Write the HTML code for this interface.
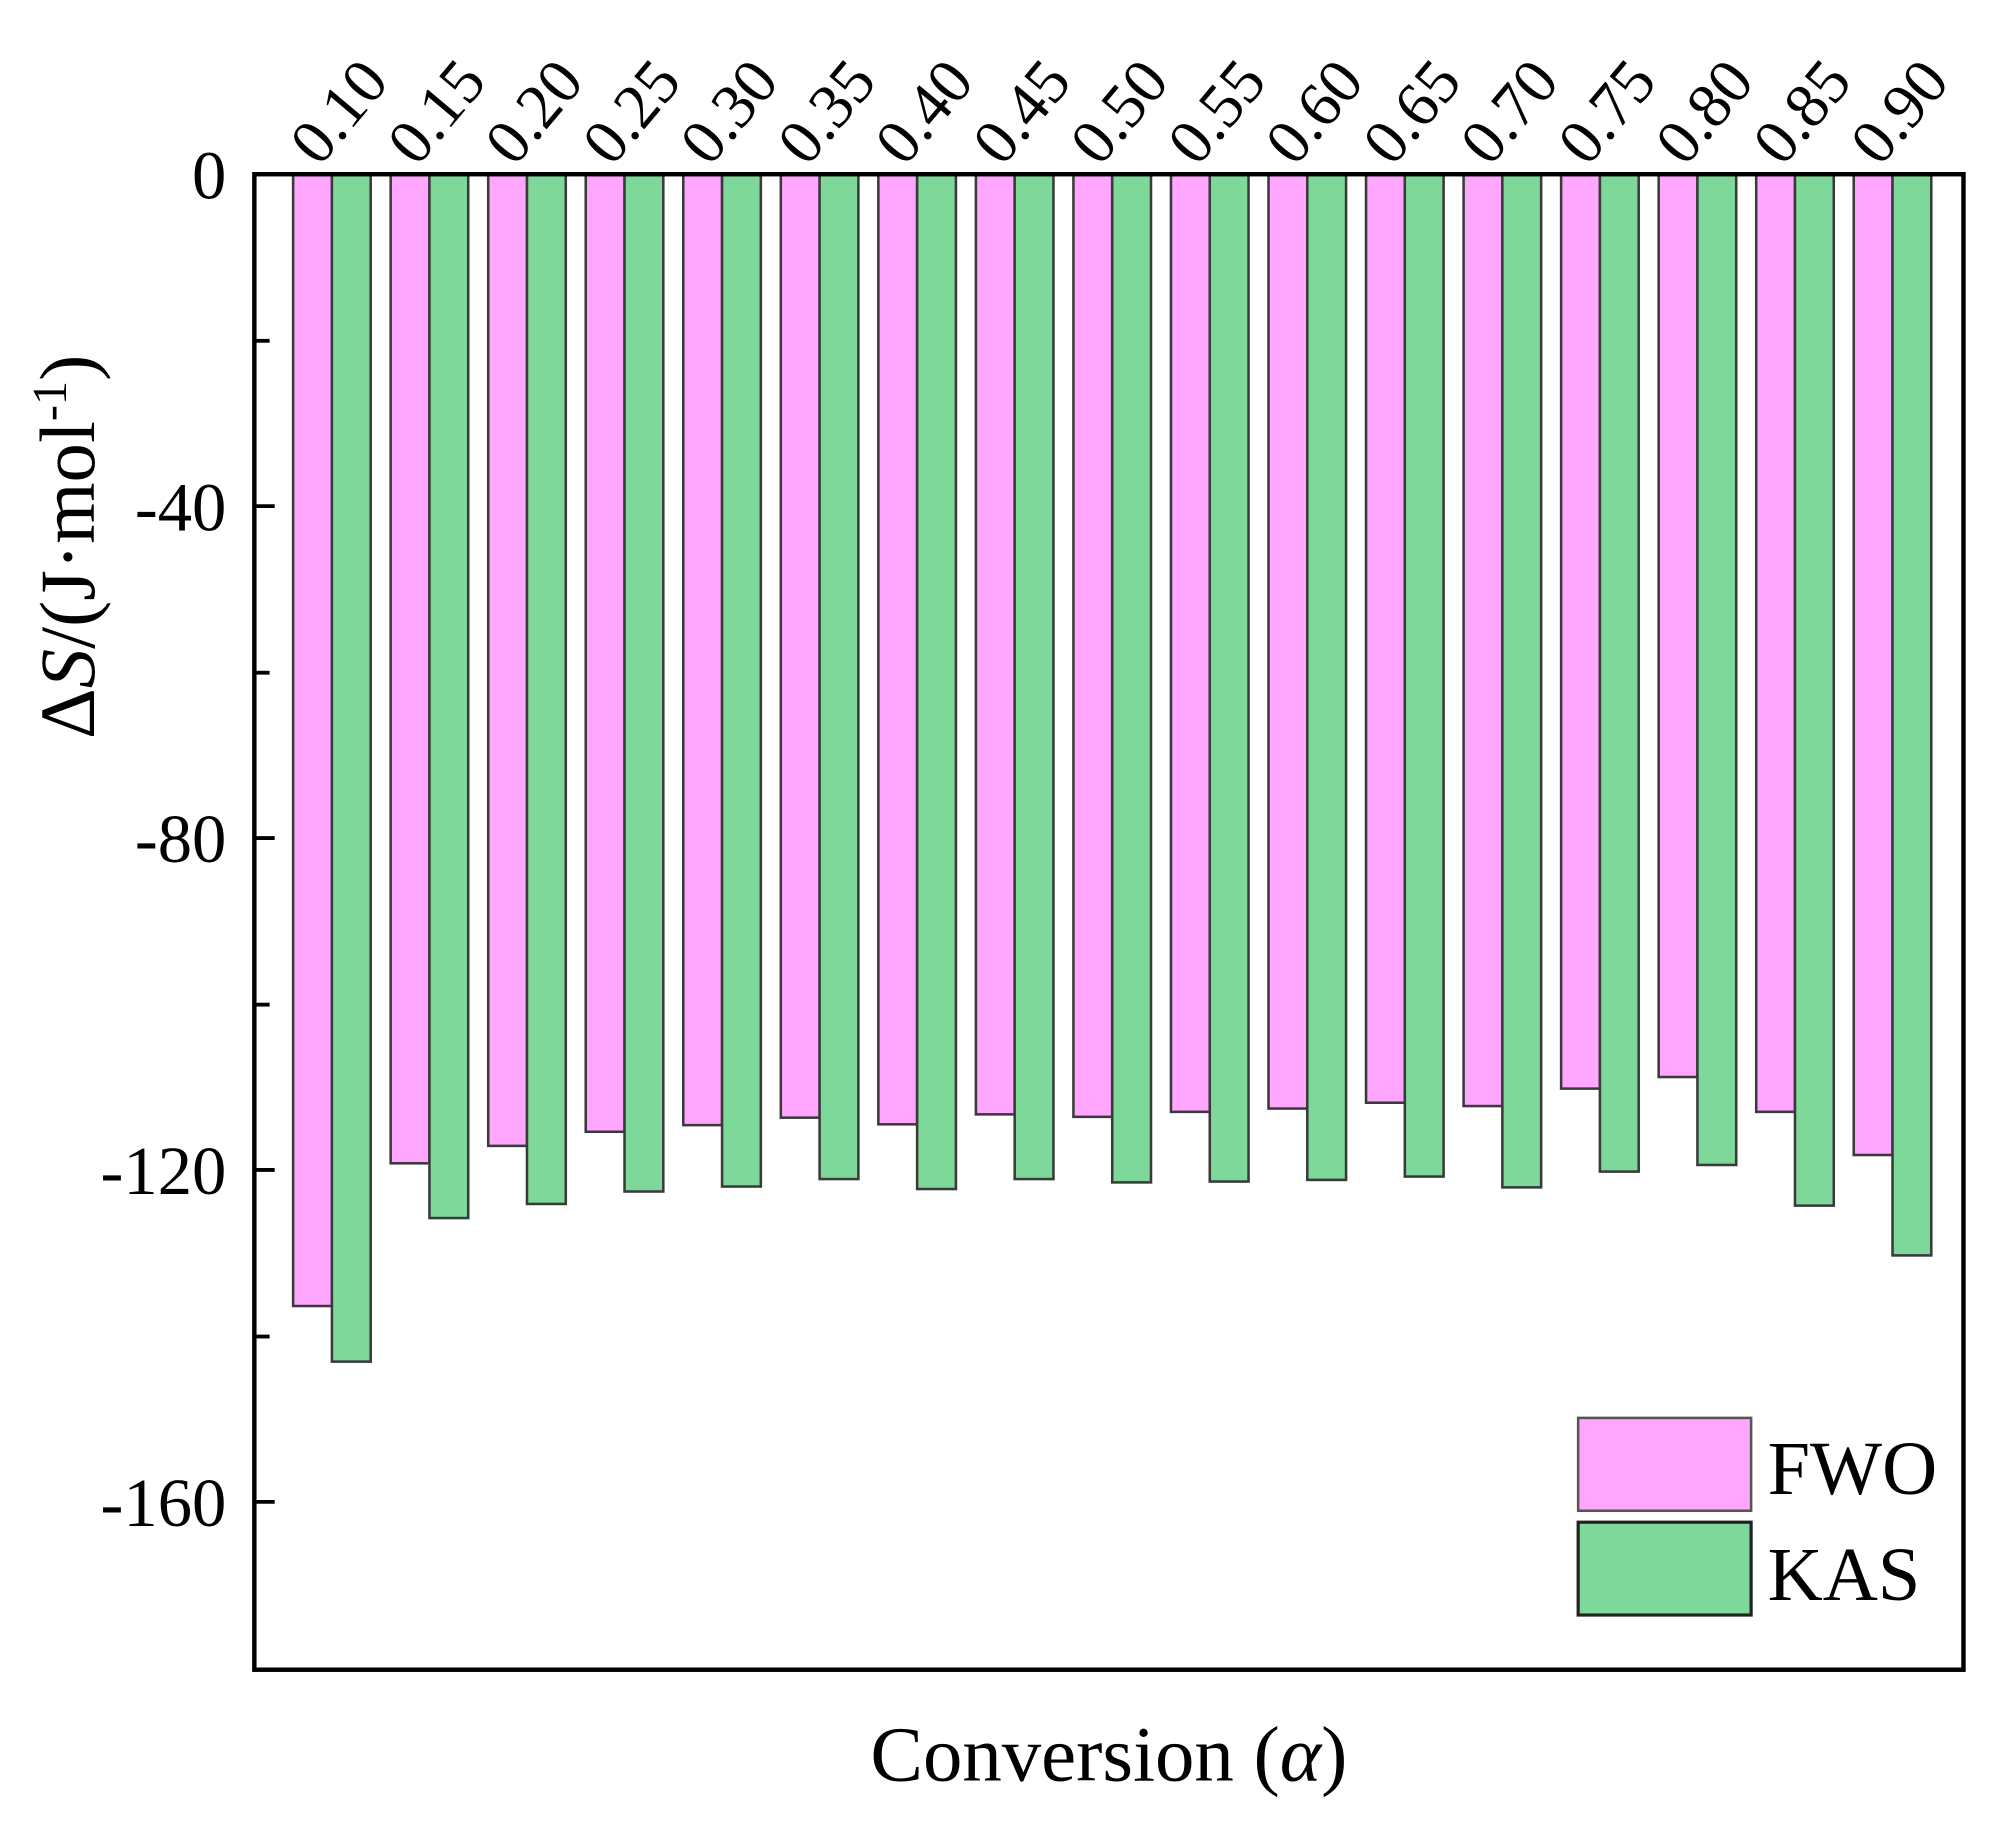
<!DOCTYPE html>
<html><head><meta charset="utf-8"><style>html,body{margin:0;padding:0;background:#fff}svg{display:block}</style></head>
<body>
<svg width="1994" height="1833" viewBox="0 0 1568 1441.4" preserveAspectRatio="none" xmlns="http://www.w3.org/2000/svg" font-family="Liberation Serif, serif">
<rect width="1568" height="1441.4" fill="#fff"/>
<g id="bars" stroke="#3a3a3a" stroke-width="2"></g>
<rect x="200" y="137" width="1344" height="1176" fill="none" stroke="#000" stroke-width="3.5"/>
<g stroke="#000" stroke-width="3">
<line x1="200" y1="268" x2="212" y2="268"/><line x1="200" y1="398" x2="216" y2="398"/>
<line x1="200" y1="529" x2="212" y2="529"/><line x1="200" y1="659" x2="216" y2="659"/>
<line x1="200" y1="790" x2="212" y2="790"/><line x1="200" y1="920" x2="216" y2="920"/>
<line x1="200" y1="1051" x2="212" y2="1051"/><line x1="200" y1="1181" x2="216" y2="1181"/>
</g>
<g font-size="54" text-anchor="end">
<text x="178" y="156">0</text><text x="178" y="417">-40</text><text x="178" y="678">-80</text>
<text x="178" y="939">-120</text><text x="178" y="1200">-160</text>
</g>
<g id="xl" font-size="50"></g>
<text transform="translate(74,430) rotate(-90)" text-anchor="middle" font-size="62">Δ<tspan font-style="italic">S</tspan>/(J·mol<tspan font-size="38" dy="-22">-1</tspan><tspan dy="22">)</tspan></text>
<text x="872" y="1400" text-anchor="middle" font-size="62">Conversion (<tspan font-style="italic">α</tspan>)</text>
<rect x="1241" y="1115" width="136" height="73" fill="#FFA6FF" stroke="#555" stroke-width="2"/>
<rect x="1241" y="1197" width="136" height="73" fill="#7DD89A" stroke="#222" stroke-width="2.5"/>
<text x="1390" y="1175" font-size="60">FWO</text>
<text x="1390" y="1258" font-size="60">KAS</text>
<script>
var f=[-136.4,-119.2,-117.1,-115.4,-114.6,-113.7,-114.5,-113.3,-113.6,-113.0,-112.6,-111.9,-112.3,-110.2,-108.8,-113.0,-118.2];
var k=[-143.1,-125.8,-124.1,-122.6,-122.0,-121.1,-122.3,-121.1,-121.5,-121.4,-121.2,-120.8,-122.1,-120.2,-119.4,-124.3,-130.3];
var g=document.getElementById('bars'),xl=document.getElementById('xl'),ns='http://www.w3.org/2000/svg';
for(var i=0;i<17;i++){var c=261+i*76.7;
function r(x,h,col){var e=document.createElementNS(ns,'rect');e.setAttribute('x',x);e.setAttribute('y',137);e.setAttribute('width',30.5);e.setAttribute('height',h);e.setAttribute('fill',col);g.appendChild(e);}
r(c-30.5,-f[i]*6.525,'#FFA6FF');r(c,-k[i]*6.525,'#7DD89A');
var t=document.createElementNS(ns,'text');t.setAttribute('transform','translate('+(c-10)+',132) rotate(-50)');t.textContent=(0.10+i*0.05).toFixed(2);xl.appendChild(t);}
</script>
</svg>
</body></html>
